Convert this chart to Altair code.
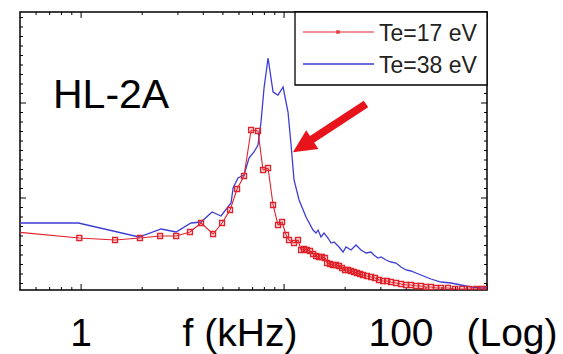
import altair as alt
import numpy as np
import pandas as pd

# Power spectra of the fluctuation for two electron temperatures
series_names = ["Te=17 eV", "Te=38 eV"]

# Te=17 eV (every sample drawn with a square marker)
f_17 = [0.45, 0.98, 1.47, 1.95, 2.45, 2.94, 3.44, 3.90, 4.47, 4.95, 5.42, 5.87,
        6.35, 6.88, 7.44, 7.88, 8.34, 8.83, 9.34, 9.78, 10.23, 10.58, 11.20, 11.72,
        12.13, 12.55, 12.98, 13.43, 13.90, 14.38, 14.87, 15.39, 15.92, 16.29, 16.85,
        17.44, 18.04, 18.66, 19.31, 19.98, 20.67, 21.38, 22.13, 22.89, 23.68, 24.50,
        25.63, 26.84, 28.08, 29.38, 30.74, 32.17, 33.66, 35.63, 37.71, 39.90, 42.23,
        44.69, 47.30, 50.06, 52.98, 56.08, 59.34, 64.27, 69.57, 75.3, 81.5, 88.3,
        94.5, 100.0]
a_17 = [0.585, 0.52, 0.50, 0.52, 0.54, 0.54, 0.58, 0.67, 0.56, 0.67, 0.80, 1.01,
        1.14, 1.60, 1.59, 1.20, 1.22, 0.85, 0.65, 0.68, 0.55, 0.50, 0.47, 0.50,
        0.40, 0.41, 0.40, 0.39, 0.36, 0.34, 0.33, 0.33, 0.32, 0.27, 0.26,
        0.25, 0.25, 0.24, 0.22, 0.20, 0.20, 0.19, 0.18, 0.17, 0.16, 0.15,
        0.14, 0.13, 0.12, 0.10, 0.09, 0.09, 0.08, 0.07, 0.06, 0.05, 0.05,
        0.04, 0.04, 0.03, 0.03, 0.02, 0.02, 0.02, 0.01, 0.01, 0.01, 0.01,
        0.01, 0.01]

# Te=38 eV (plain line)
f_38 = [0.5, 0.97, 1.93, 2.48, 2.94, 3.48, 3.90, 4.42, 4.89, 5.48, 5.61, 5.93,
        6.35, 6.72, 7.11, 7.44, 7.70, 7.97, 8.34, 8.83, 9.34, 9.89, 10.46, 10.83,
        11.20, 11.86, 12.83, 13.89, 14.38, 14.71, 15.21, 15.74, 16.47, 17.04, 17.63,
        18.66, 19.53, 20.20, 21.38, 22.63, 23.94, 25.35, 26.84, 27.7, 29.04, 30.06,
        31.80, 33.65, 35.62, 37.69, 39.89, 42.21, 44.67, 47.27, 50.0, 52.9, 59.3,
        66.5, 74.5, 83.4, 93.4, 100.0]
a_38 = [0.67, 0.67, 0.53, 0.61, 0.58, 0.67, 0.68, 0.78, 0.74, 0.87, 1.02, 1.12,
        1.15, 1.32, 1.38, 1.45, 1.68, 2.02, 2.32, 1.98, 1.95, 2.03, 1.78, 1.45,
        1.10, 0.90, 0.73, 0.60, 0.57, 0.60, 0.53, 0.57, 0.52, 0.47, 0.48,
        0.43, 0.38, 0.43, 0.40, 0.45, 0.40, 0.37, 0.38, 0.35, 0.32, 0.33,
        0.30, 0.28, 0.27, 0.23, 0.20, 0.19, 0.17, 0.15, 0.13, 0.11, 0.08,
        0.07, 0.05, 0.03, 0.02, 0.02]

# Frame ticks
x_major = [1, 10, 100]
x_minor = [0.6, 0.7, 0.8, 0.9, 2, 3, 4, 5, 6, 7, 8, 9,
           20, 30, 40, 50, 60, 70, 80, 90]
y_major = [0.92, 1.87]
y_minor = [v for v in np.round(0.92 + 0.095 * np.arange(-9, 20), 3)
           if 0 < v < 2.78 and v not in y_major]

bottom_labels = ["1", "f (kHz)", "100", "(Log)"]
title_text = "HL-2A"

W, H = 467, 278
RED = "#e0222a"
BLUE = "#3d3dd6"
ARROW = "#e8141b"
FONT = "Liberation Sans"

xs = alt.Scale(type="log", domain=[0.5, 100], nice=False)
ys = alt.Scale(domain=[0, 2.78], nice=False, zero=False)

df17 = pd.DataFrame({"f": f_17, "a": a_17})
df38 = pd.DataFrame({"f": f_38, "a": a_38})
one = pd.DataFrame({"k": [0]})

X = alt.X("f:Q", scale=xs, axis=None)
Y = alt.Y("a:Q", scale=ys, axis=None)

blue_line = alt.Chart(df38).mark_line(color=BLUE, strokeWidth=1.3, clip=True).encode(x=X, y=Y)
red_line = alt.Chart(df17).mark_line(color=RED, strokeWidth=1.1, clip=True).encode(x=X, y=Y)
red_pts = alt.Chart(df17).mark_point(
    shape="square", filled=False, size=24, strokeWidth=1.4, color=RED, opacity=1, clip=True
).encode(x=X, y=Y)


def x_ticks(vals, length):
    d = pd.DataFrame({"f": vals})
    base = alt.Chart(d).mark_rule(color="black", strokeWidth=1)
    bottom = base.encode(x=X, y=alt.value(H), y2=alt.value(H - length))
    top = base.encode(x=X, y=alt.value(0), y2=alt.value(length))
    return [bottom, top]


def y_ticks(vals, length):
    d = pd.DataFrame({"a": vals})
    base = alt.Chart(d).mark_rule(color="black", strokeWidth=1)
    left = base.encode(y=Y, x=alt.value(0), x2=alt.value(length))
    right = base.encode(y=Y, x=alt.value(W), x2=alt.value(W - length))
    return [left, right]


ticks = x_ticks(x_major, 6) + x_ticks(x_minor, 3) + y_ticks(y_major, 6) + y_ticks(y_minor, 3)

# Legend box in the upper right corner
leg_box = alt.Chart(one).mark_rect(fill="white", stroke="black", strokeWidth=1.3).encode(
    x=alt.value(275), x2=alt.value(W), y=alt.value(0), y2=alt.value(73)
)
leg_red = alt.Chart(one).mark_rule(color=RED, strokeWidth=1.1).encode(
    x=alt.value(283), x2=alt.value(354), y=alt.value(20)
)
leg_red_pt = alt.Chart(one).mark_point(shape="square", filled=True, size=14, color=RED).encode(
    x=alt.value(318), y=alt.value(20)
)
leg_blue = alt.Chart(one).mark_rule(color=BLUE, strokeWidth=1.3).encode(
    x=alt.value(283), x2=alt.value(354), y=alt.value(52)
)
leg_t1 = alt.Chart(one).mark_text(
    text=series_names[0], font=FONT, fontSize=23, align="left", baseline="alphabetic", color="#222"
).encode(x=alt.value(359), y=alt.value(29))
leg_t2 = alt.Chart(one).mark_text(
    text=series_names[1], font=FONT, fontSize=23, align="left", baseline="alphabetic", color="#222"
).encode(x=alt.value(359), y=alt.value(61))

title = alt.Chart(one).mark_text(
    text=title_text, font=FONT, fontSize=41, align="left", baseline="alphabetic", color="black"
).encode(x=alt.value(33), y=alt.value(96))

# Red arrow pointing at the Te=38 eV peak
shaft = alt.Chart(one).mark_rule(color=ARROW, strokeWidth=8, strokeCap="butt").encode(
    x=alt.value(346), y=alt.value(92), x2=alt.value(291), y2=alt.value(128)
)
head = alt.Chart(one).mark_point(
    shape="M0,-1L0.85,0.75L-0.85,0.75Z", filled=True, size=700, angle=237,
    color=ARROW, opacity=1, strokeWidth=0
).encode(x=alt.value(284), y=alt.value(133))

label_x = [61, 220, 381, 492]
labels = [
    alt.Chart(one).mark_text(
        text=t, font=FONT, fontSize=39, align="center", baseline="alphabetic", color="black"
    ).encode(x=alt.value(xp), y=alt.value(334))
    for t, xp in zip(bottom_labels, label_x)
]

chart = alt.layer(
    *ticks, blue_line, red_line, red_pts,
    leg_box, leg_red, leg_red_pt, leg_blue, leg_t1, leg_t2,
    title, shaft, head, *labels
).properties(
    width=W, height=H,
    autosize=alt.AutoSizeParams(type="none"),
    padding={"left": 20, "top": 12, "right": 76, "bottom": 64},
    background="white",
).configure_view(stroke="black", strokeWidth=1.5)

chart.save("out.html", embed_options={"renderer": "svg", "actions": False})
